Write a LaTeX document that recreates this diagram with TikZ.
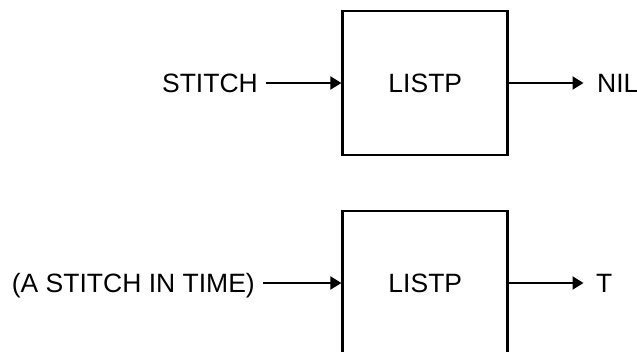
\documentclass[tikz,border=0pt]{standalone}
\usepackage{fontspec}
\setmainfont{Liberation Sans}
\usetikzlibrary{arrows.meta}
\begin{document}
\begin{tikzpicture}[x=1pt,y=-1pt,
  fn/.style={draw=black,line width=2.8pt,minimum width=165pt,minimum height=144pt,inner sep=0pt,
    font=\fontsize{26.5}{30}\selectfont},
  lbl/.style={inner sep=0pt,text height=19pt,text depth=0pt,font=\fontsize{26.5}{30}\selectfont},
  arr/.style={line width=2.1pt,-{Triangle[length=11pt,width=13pt]}}]
\useasboundingbox (0,0) rectangle (637,351);
\begin{scope}
\clip (0,0) rectangle (637,351);
\node[fn] (b1) at (425.3,83) {LISTP};
\node[fn] (b2) at (425.3,283) {LISTP};
\end{scope}
\node[lbl,anchor=east] (in1) at (258,83) {STITCH};
\node[lbl,anchor=west] (out1) at (597,83) {NIL};
\node[lbl,anchor=east] (in2) at (255,283) {(A STITCH IN TIME)};
\node[lbl,anchor=west] (out2) at (596,283) {T};
\draw[arr,shorten <=8pt] (in1.east) -- (b1.west);
\draw[arr,shorten >=13.5pt] (b1.east) -- (out1.west);
\draw[arr,shorten <=8pt] (in2.east) -- (b2.west);
\draw[arr,shorten >=12.5pt] (b2.east) -- (out2.west);
\end{tikzpicture}
\end{document}
